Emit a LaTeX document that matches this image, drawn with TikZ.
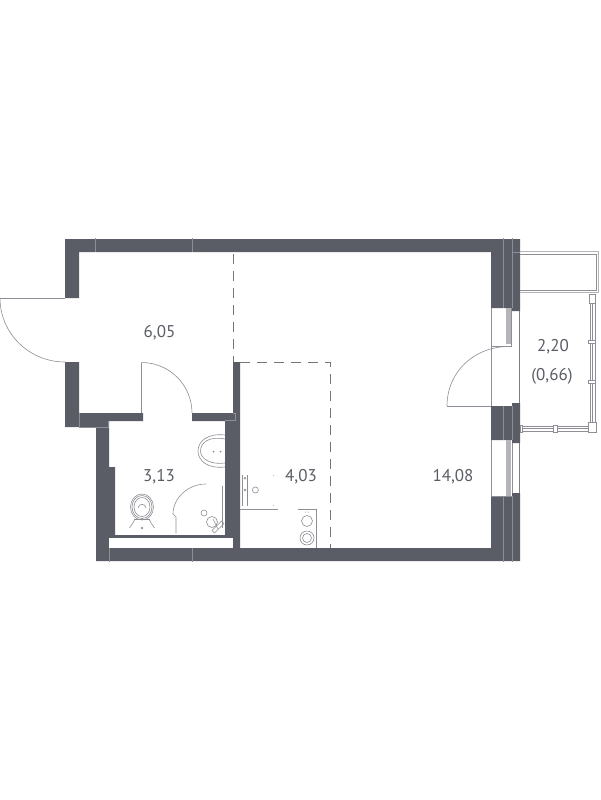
\documentclass[tikz,border=0pt]{standalone}
\usepackage{fontspec}
\setmainfont{PT Sans}
\definecolor{wallc}{HTML}{5B5D66}
\definecolor{linec}{HTML}{8E8F96}
\definecolor{bandc}{HTML}{B4B5B9}
\definecolor{textc}{HTML}{5B5D66}
\tikzset{
  wall/.style={fill=wallc,draw=none},
  seam/.style={draw=linec,line width=0.4pt},
  thin/.style={draw=linec,line width=0.6pt},
  rail/.style={draw=bandc,line width=1pt},
  zone/.style={draw=wallc!85!white,line width=0.85pt,dash pattern=on 10pt off 7pt},
  area/.style={text=textc,font=\fontsize{17}{19}\selectfont,inner sep=0pt}
}
\begin{document}
\begin{tikzpicture}[x=1pt,y=-1pt]
\useasboundingbox (0,0) rectangle (600,800);
\fill[white] (0,0) rectangle (600,800);
% walls
\fill[wall] (65,239) -- (520,239) -- (520,311) -- (512,311) -- (512,308) -- (491,308) -- (491,252) -- (79,252) -- (79,298) -- (65,298) -- cycle;
\fill[wall] (65,362) -- (79,362) -- (79,413) -- (143,413) -- (143,421) -- (109,421) -- (109,467) -- (115,467) -- (115,535) -- (225,535) -- (225,421) -- (192,421) -- (192,413) -- (233,413) -- (233,362) -- (240,362) -- (240,548) -- (491,548) -- (491,496) -- (512,496) -- (512,493) -- (520,493) -- (520,561) -- (96,561) -- (96,427) -- (65,427) -- cycle;
\fill[white] (109,538) rectangle (233,548);
\fill[wall] (491,406) -- (512,406) -- (512,403) -- (520,403) -- (520,443) -- (512,443) -- (512,440) -- (491,440) -- cycle;
% wall seams
\foreach \x in {95,192} \draw[seam] (\x,238) -- (\x,252);
\foreach \x in {503,512} {\draw[seam] (\x,238) -- (\x,308); \draw[seam] (\x,496) -- (\x,562);}
\draw[seam] (503,406) -- (503,440);
\draw[seam] (512,406) -- (512,440);
\draw[seam] (512,252) -- (520,252);
\draw[seam] (79,413) -- (79,427) -- (108,427) -- (108,421);
\draw[seam] (233,413) -- (235,413) -- (235,420) -- (225,420);
\draw[seam] (109,548) -- (109,562);
\draw[seam] (192,548) -- (192,562);
% balcony-side door and window
\draw[thin] (491,308) -- (491,406);
\fill[bandc] (506,308) rectangle (511,344);
\draw[thin] (511.5,308) -- (511.5,346.5) -- (491,346.5);
\draw[wallc!80!white,line width=1.2pt] (519.3,311) -- (519.3,403);
\draw[thin] (447,406) -- (491,406);
\draw[thin] (447,406) .. controls (447,372) and (474,346.5) .. (509,346.5);
\draw[thin] (491,440) -- (491,496);
\fill[bandc] (506,440) rectangle (511,496);
\draw[thin] (491,496) -- (512,496);
\draw[wallc!80!white,line width=1.2pt] (519.3,443) -- (519.3,493);
\draw[thin] (512.5,443) -- (512.5,493);
% balcony
\draw[rail] (520,251.5) -- (598.5,251.5) -- (598.5,292.5) -- (520,292.5);
\draw[thin] (520,254.5) -- (596.5,254.5) -- (596.5,290) -- (520,290);
\draw[thin,fill=white] (589,294) rectangle (595.5,303);
\draw[thin] (590,303) -- (590,423);
\draw[thin] (592,303) -- (592,423);
\draw[thin] (595,303) -- (595,423);
\foreach \y in {342,382} \draw[thin,fill=white] (588.5,\y-1.5) rectangle (595.5,\y+1.5);
\draw[thin] (520,426) -- (589,426);
\draw[thin] (520,428.5) -- (589,428.5);
\draw[thin] (520,431.5) -- (589,431.5);
\draw[thin,fill=white] (588.5,422) rectangle (596,432);
\draw[thin,fill=white] (553.5,425) rectangle (557,432);
\draw[thin,fill=white] (520,425) rectangle (522.5,432);
% entrance door
\draw[thin] (0,298) -- (65,298);
\draw[thin] (0,298) .. controls (0,333.3) and (29,362) .. (65,362);
% inner door
\draw[thin] (141.5,413) -- (141.5,362.5);
\draw[thin] (141.5,362.5) .. controls (169.4,362.5) and (192,385) .. (192,413);
% zones
\draw[zone] (233,254) -- (233,362);
\draw[zone] (240,362) -- (330,362) -- (330,548);
% bath fixtures
\draw[thin] (225,435) .. controls (208,433) and (198,441) .. (198,451) .. controls (198,461) and (208,469) .. (225,467);
\draw[thin] (225,439) .. controls (210,436) and (200.5,442) .. (200.5,451) .. controls (200.5,459) and (211,465) .. (225,463);
\fill[linec] (213.5,451.5) circle (1);
\fill[linec] (220.5,451.5) circle (1);
\draw[thin] (206,484) .. controls (187.8,484) and (173,498.2) .. (173,514);
\draw[thin] (173,514) -- (176,517) -- (176,533);
\draw[thin] (222.3,486) -- (222.3,528);
\draw[thin] (204,513) circle (3);
\draw[thin] (212,522) circle (5.5);
\draw[thin] (212,530.5) -- (214.5,533) -- (224,523.5) -- (221.5,521) -- cycle;
\draw[thin] (213,519) -- (218,529);
% toilet
\draw[thin] (142,507) ellipse (11.5 and 13);
\draw[thin] (142,507) ellipse (10 and 11.5);
\draw[thin] (142,507) ellipse (8 and 9.5);
\draw[thin] (138,508) .. controls (139,503) and (145,503) .. (146,508);
\draw[thin] (134,519) -- (150,519);
\draw[thin] (129.5,528) .. controls (132,524) and (134,522) .. (135,519);
\draw[thin] (154.5,528) .. controls (152,524) and (150,522) .. (149,519);
\draw[thin] (142,528) circle (1);
% kitchen fixtures
\draw[thin] (242.4,475) -- (242.4,506);
\draw[thin] (247.4,475) -- (247.4,506);
\draw[thin] (245,478.3) circle (1);
\draw[thin] (245,490) circle (1);
\draw[thin] (255.4,490) circle (3);
\draw[thin] (240,509) -- (278,509);
\draw[bandc,line width=0.5pt] (273,475) -- (274,476);
\draw[bandc,line width=0.5pt] (273,505) -- (274,506);
\draw[thin] (298,509) -- (316.6,509) -- (316.6,548);
\draw[thin] (307,521) circle (5.5);
\draw[thin] (307,538) circle (7);
\draw[thin] (307,538) circle (4.5);
\fill[linec] (305.5,512) circle (0.5);
\fill[linec] (308.5,512) circle (0.5);
% labels
\node[area] (a1) at (159.5,333) {6,05};
\node[area] (a3) at (159,477) {3,13};
\node[area] (a4) at (301,477) {4,03};
\node[area] (a5) at (453,477) {14,08};
\node[area] (a6) at (553,347) {2,20};
\node[area] (a7) at (552,376) {(0,66)};
\end{tikzpicture}
\end{document}
